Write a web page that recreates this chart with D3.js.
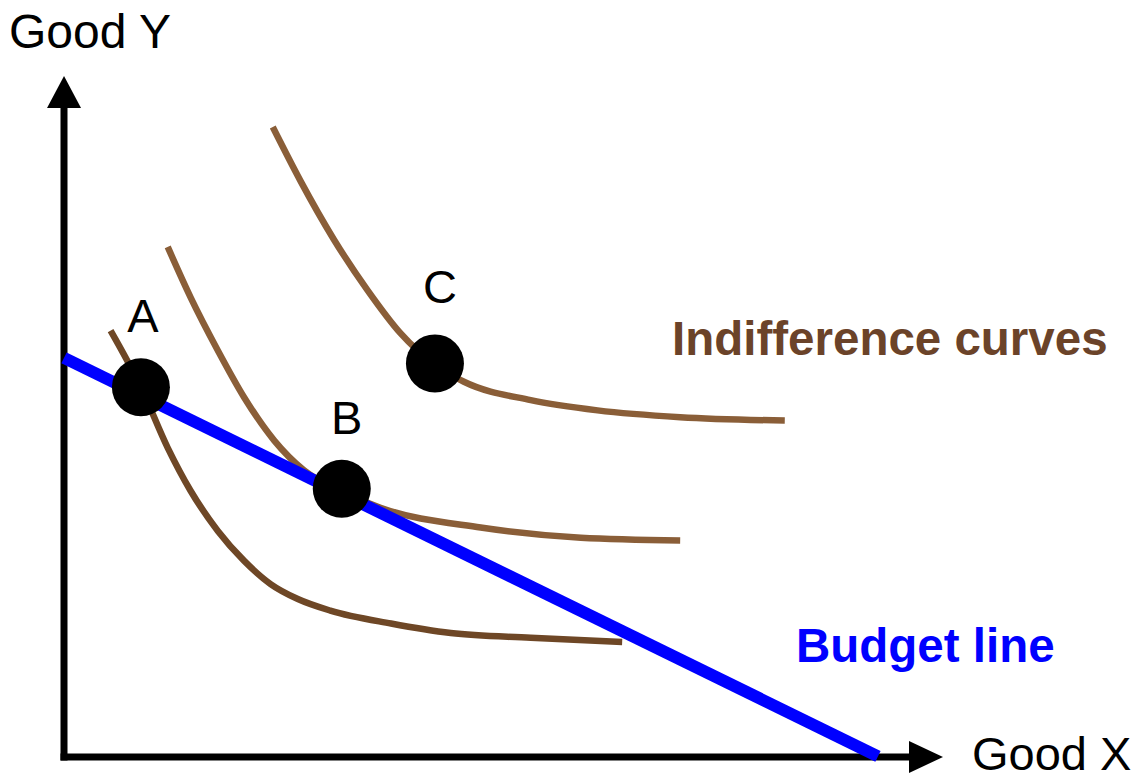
<!DOCTYPE html>
<html>
  <head>
    <title>Indifference curves</title>
    <script src="https://cdn.jsdelivr.net/npm/d3@7"></script>
    <style>
      body { margin: 0; background: #fff; }
      text { font-family: "Liberation Sans", Arial, sans-serif; }
    </style>
  </head>
  <body>
    <svg width="1147" height="773" id="mainsvg"></svg>
    <script>
      // quantities of good X / good Y, 0..100 along each axis
      const curveLow = [[5.3, 62.6], [8.75, 54.3], [11.8, 45.4], [14.4, 39.1],
        [17.5, 33.2], [20.5, 28.8], [23.5, 25.4], [26.6, 23.2], [30.3, 21.5], [37.2, 19.6],
        [44.0, 18.2], [53.1, 17.5], [63.5, 16.9]];
      const curveMid = [[11.8, 74.9], [14.4, 67.5], [17.5, 59.7], [20.5, 52.8], [23.9, 46.5], [27.3, 42.1],
        [31.6, 39.0], [36.0, 36.6], [47.4, 33.7], [58.8, 32.2], [70.1, 31.8]];
      const curveHigh = [[23.75, 92.5], [26.9, 84.6], [30.7, 76.0], [34.5, 68.6], [38.3, 62.2], [42.2, 57.6],
        [45.5, 55.1], [53.1, 52.4], [60.7, 50.9], [70.1, 49.9], [82.0, 49.4]];
      const budget = [[0, 58.6], [92.6, 0.1]];
      const bundles = [
        {name: 'A', x: 8.75, y: 54.3},
        {name: 'B', x: 31.6, y: 39.4},
        {name: 'C', x: 42.2, y: 57.8}
      ];

      const svg = d3.select('#mainsvg');
      const xScale = d3.scaleLinear().domain([0, 100]).range([64, 943]);
      const yScale = d3.scaleLinear().domain([0, 100]).range([757, 76]);

      const line = d3.line()
        .x(d => xScale(d[0]))
        .y(d => yScale(d[1]))
        .curve(d3.curveMonotoneX);

      // axes with arrow heads
      const x0 = xScale(0), y0 = yScale(0);
      svg.append('line')
        .attr('x1', x0).attr('y1', y0 + 3.5)
        .attr('x2', x0).attr('y2', yScale(100) + 30)
        .attr('stroke', 'black').attr('stroke-width', 7);
      svg.append('line')
        .attr('x1', x0 - 3.5).attr('y1', y0)
        .attr('x2', xScale(100) - 32).attr('y2', y0)
        .attr('stroke', 'black').attr('stroke-width', 7);
      svg.append('path')
        .attr('d', `M${x0},${yScale(100)} L${x0 - 17},${yScale(100) + 32} L${x0 + 17},${yScale(100) + 32} Z`)
        .attr('fill', 'black');
      svg.append('path')
        .attr('d', `M${xScale(100)},${y0} L${xScale(100) - 34},${y0 - 16} L${xScale(100) - 34},${y0 + 16} Z`)
        .attr('fill', 'black');

      // indifference curves
      svg.append('path').datum(curveLow).attr('d', line)
        .attr('fill', 'none').attr('stroke', '#6e4726').attr('stroke-width', 6.5);
      svg.append('path').datum(curveMid).attr('d', line)
        .attr('fill', 'none').attr('stroke', '#8a5e38').attr('stroke-width', 6.5);
      svg.append('path').datum(curveHigh).attr('d', line)
        .attr('fill', 'none').attr('stroke', '#8a5e38').attr('stroke-width', 6.5);

      // budget line
      svg.append('path').datum(budget).attr('d', d3.line().x(d => xScale(d[0])).y(d => yScale(d[1])))
        .attr('fill', 'none').attr('stroke', '#0000ff').attr('stroke-width', 12);

      // bundles
      svg.selectAll('circle.bundle')
        .data(bundles)
        .enter()
        .append('circle')
        .attr('cx', d => xScale(d.x))
        .attr('cy', d => yScale(d.y))
        .attr('r', 29)
        .attr('fill', 'black');

      svg.selectAll('text.bundle')
        .data(bundles)
        .enter()
        .append('text')
        .attr('x', d => xScale(d.x) + (d.name === 'A' ? 2 : 5))
        .attr('y', d => yScale(d.y) - (d.name === 'C' ? 60 : 55))
        .attr('text-anchor', 'middle')
        .attr('font-size', 47)
        .text(d => d.name);

      // axis titles
      svg.append('text').attr('x', 9).attr('y', 48).attr('font-size', 48).text('Good Y');
      svg.append('text').attr('x', 972).attr('y', 770).attr('font-size', 47).text('Good X');

      // annotations
      svg.append('text').attr('x', 672).attr('y', 355)
        .attr('font-size', 47.5).attr('font-weight', 'bold').attr('fill', '#6b4329')
        .text('Indifference curves');
      svg.append('text').attr('x', 796).attr('y', 662)
        .attr('font-size', 47.5).attr('font-weight', 'bold').attr('fill', '#0000ff')
        .text('Budget line');
    </script>
  </body>
</html>
